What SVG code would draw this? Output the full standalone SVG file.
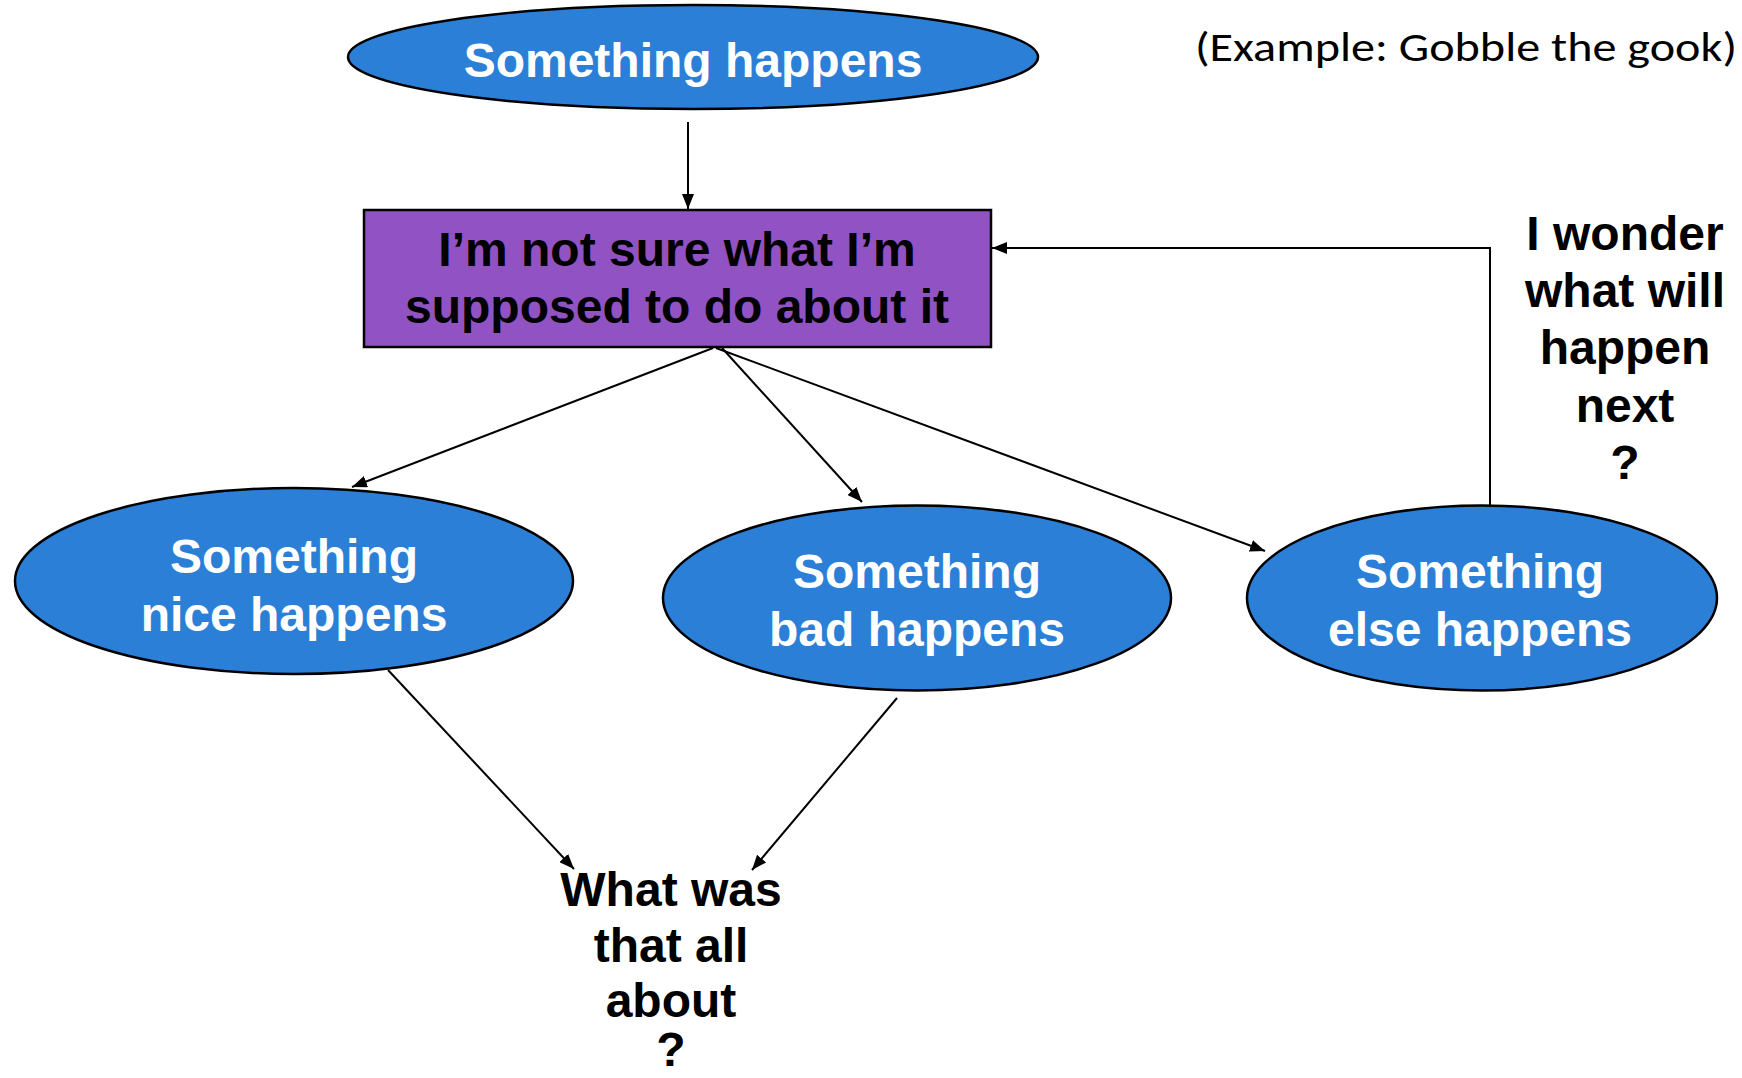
<svg xmlns="http://www.w3.org/2000/svg" width="1742" height="1078" viewBox="0 0 1742 1078">
<style>
.blue{fill:#2B7FD7;stroke:#000;stroke-width:2.5}
.purple{fill:#9153C4;stroke:#000;stroke-width:2.5}
.wt{font-family:"Liberation Sans",Arial,sans-serif;font-weight:bold;font-size:48px;fill:#fff;text-anchor:middle}
.bt{font-family:"Liberation Sans",Arial,sans-serif;font-weight:bold;font-size:48px;fill:#000;text-anchor:middle}
.note{font-family:Calibri,Carlito,"Liberation Sans",sans-serif;font-size:42px;fill:#000}
.edge{fill:none;stroke:#000;stroke-width:2}
</style>
<defs>
<marker id="arrow" markerUnits="userSpaceOnUse" markerWidth="16" markerHeight="12" refX="15" refY="6" orient="auto">
<path d="M0,0 L15,6 L0,12 z" fill="#000"/>
</marker>
</defs>
<rect width="1742" height="1078" fill="#fff"/>
<g id="connectors">
<path class="edge" d="M688,122 L688,209" marker-end="url(#arrow)"/>
<path class="edge" d="M713,348 L352,487" marker-end="url(#arrow)"/>
<path class="edge" d="M722,348 L862,502" marker-end="url(#arrow)"/>
<path class="edge" d="M716,348 L1265,551" marker-end="url(#arrow)"/>
<path class="edge" d="M1490,505 L1490,248 L992,248" marker-end="url(#arrow)"/>
<path class="edge" d="M388,670 L574,869" marker-end="url(#arrow)"/>
<path class="edge" d="M897,698 L752,870" marker-end="url(#arrow)"/>
</g>
<g id="node-start">
<ellipse class="blue" cx="693" cy="57" rx="345" ry="52"/>
<text class="wt" x="693" y="77">Something happens</text>
</g>
<g id="node-unsure">
<rect class="purple" x="364" y="210" width="627" height="137"/>
<text class="bt" x="677" y="266">I’m not sure what I’m</text>
<text class="bt" x="677" y="323">supposed to do about it</text>
</g>
<g id="node-nice">
<ellipse class="blue" cx="294" cy="581" rx="279" ry="93"/>
<text class="wt" x="294" y="573">Something</text>
<text class="wt" x="294" y="631">nice happens</text>
</g>
<g id="node-bad">
<ellipse class="blue" cx="917" cy="598" rx="254" ry="92.5"/>
<text class="wt" x="917" y="588">Something</text>
<text class="wt" x="917" y="646">bad happens</text>
</g>
<g id="node-else">
<ellipse class="blue" cx="1482" cy="598" rx="235" ry="92.5"/>
<text class="wt" x="1480" y="588">Something</text>
<text class="wt" x="1480" y="646">else happens</text>
</g>
<g id="label-wonder">
<text class="bt" x="1625" y="250">I wonder</text>
<text class="bt" x="1625" y="307">what will</text>
<text class="bt" x="1625" y="364">happen</text>
<text class="bt" x="1625" y="422">next</text>
<text class="bt" x="1625" y="479">?</text>
</g>
<g id="label-about">
<text class="bt" x="671" y="906">What was</text>
<text class="bt" x="671" y="962">that all</text>
<text class="bt" x="671" y="1017">about</text>
<text class="bt" x="671" y="1066">?</text>
</g>
<g id="label-example">
<text class="note" x="1195" y="61" textLength="542" lengthAdjust="spacingAndGlyphs">(Example: Gobble the gook)</text>
</g>
</svg>
